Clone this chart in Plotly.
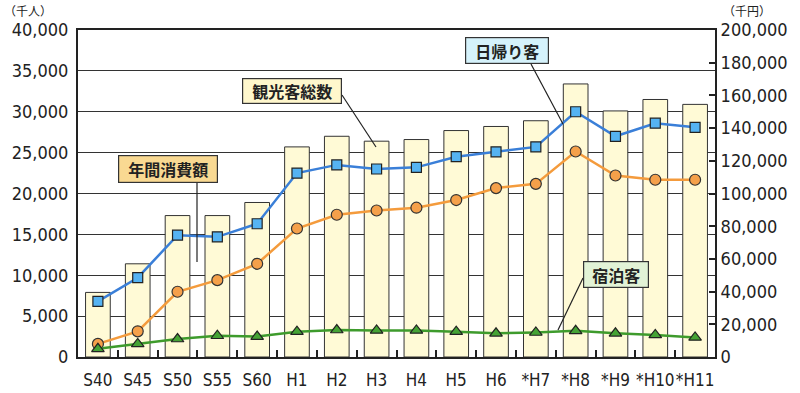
import plotly.graph_objects as go

categories = ["S40", "S45", "S50", "S55", "S60", "H1", "H2", "H3", "H4", "H5", "H6",
              "*H7", "*H8", "*H9", "*H10", "*H11"]
total_visitors = [7900, 11400, 17300, 17300, 18900, 25700, 27000, 26400, 26600, 27700,
                  28200, 28900, 33400, 30100, 31500, 30900]
day_trippers = [6800, 9700, 14900, 14700, 16300, 22500, 23500, 23000, 23200, 24500,
                25100, 25700, 30000, 27000, 28600, 28100]
overnight = [1000, 1600, 2200, 2600, 2500, 3100, 3300, 3250, 3250, 3100, 2900, 3000,
             3200, 2900, 2700, 2400]
annual_spending = [8000, 15700, 39900, 47000, 57000, 78600, 87000, 89600, 91300, 96000,
                   103300, 105900, 125700, 111000, 108400, 108400]

left_ticks = [0, 5000, 10000, 15000, 20000, 25000, 30000, 35000, 40000]
right_ticks = [0, 20000, 40000, 60000, 80000, 100000, 120000, 140000, 160000, 180000, 200000]

FONT = "Noto Sans CJK JP, DejaVu Sans, sans-serif"
NUMFONT = "DejaVu Sans Condensed, DejaVu Sans, sans-serif"
DARK = "#222222"

fig = go.Figure()
fig.add_trace(go.Bar(x=categories, y=total_visitors, name="観光客総数",
                     marker=dict(color="#FFFAD6", line=dict(color="#333333", width=1)),
                     width=0.62))
fig.add_trace(go.Scatter(x=categories, y=day_trippers, name="日帰り客", mode="lines+markers",
                         line=dict(color="#3A7FD8", width=2.5),
                         marker=dict(symbol="square", size=10, color="#55B3F2",
                                     line=dict(color="#222222", width=1.2))))
fig.add_trace(go.Scatter(x=categories, y=annual_spending, name="年間消費額", yaxis="y2",
                         mode="lines+markers",
                         line=dict(color="#F49B3C", width=2.5),
                         marker=dict(symbol="circle", size=11, color="#F5A04A",
                                     line=dict(color="#333333", width=1.2))))
fig.add_trace(go.Scatter(x=categories, y=overnight, name="宿泊客", yaxis="y3",
                         mode="lines+markers",
                         line=dict(color="#3E9B2C", width=2.5),
                         marker=dict(symbol="triangle-up", size=11, color="#45A335",
                                     line=dict(color="#222222", width=1.2))))

W, H = 800, 393
PL, PR, PT, PB = 78, 715, 30, 357          # plot area in window pixels
pw, ph = PR - PL, PB - PT


def px(x):
    return (x - PL) / pw


def py(y):
    return (PB - y) / ph


fig.update_layout(
    width=W, height=H,
    margin=dict(l=PL, r=W - PR, t=PT, b=H - PB, autoexpand=False),
    paper_bgcolor="white", plot_bgcolor="white",
    showlegend=False,
    font=dict(family=FONT, color=DARK, size=16),
    xaxis=dict(type="category", showline=True, linecolor="#222222", linewidth=2,
               mirror=True, ticks="inside", tickson="boundaries", ticklen=7,
               tickcolor="#222222", tickwidth=1.5, showgrid=False, automargin=False,
               tickangle=0, tickfont=dict(size=17, family=NUMFONT), ticklabelstandoff=7,
               range=[-0.5, len(categories) - 0.5]),
    yaxis=dict(range=[0, 40000], tickvals=left_ticks,
               ticktext=[f"{v:,}" for v in left_ticks],
               showgrid=True, gridcolor="#333333", gridwidth=1, automargin=False,
               showline=True, linecolor="#222222", linewidth=2, ticklabelstandoff=4,
               ticks="", tickfont=dict(size=18, family=NUMFONT), zeroline=False),
    yaxis2=dict(range=[0, 200000], overlaying="y", side="right", automargin=False,
                tickvals=right_ticks, ticktext=[f"{v:,}" for v in right_ticks],
                showgrid=False, showline=True, linecolor="#222222", linewidth=2,
                ticks="inside", ticklen=6, tickwidth=1.5, tickcolor="#222222",
                tickfont=dict(size=18, family=NUMFONT), zeroline=False),
    yaxis3=dict(range=[0, 40000], overlaying="y", visible=False),
)

# axis unit titles
fig.add_annotation(text="（千人）", xref="paper", yref="paper", x=px(3), y=py(10),
                   xanchor="left", yanchor="middle", showarrow=False, borderpad=0,
                   font=dict(size=12))
fig.add_annotation(text="（千円）", xref="paper", yref="paper", x=px(722), y=py(10),
                   xanchor="left", yanchor="middle", showarrow=False, borderpad=0,
                   font=dict(size=12))

# callout lines (window pixel positions)
callouts = [
    ((197, 183), (197, 262)),
    ((342, 95), (376, 147)),
    ((531, 64), (563, 124)),
    ((583, 278), (558, 330)),
]
for (x0, y0), (x1, y1) in callouts:
    fig.add_shape(type="line", xref="paper", yref="paper",
                  x0=px(x0), y0=py(y0), x1=px(x1), y1=py(y1),
                  line=dict(color="#222222", width=1.2))

labels = [
    ("年間消費額", (118, 155, 218, 183), "#F9D992"),
    ("観光客総数", (242, 78, 342, 104), "#FFF7CC"),
    ("日帰り客", (465, 37, 549, 64), "#D5F2FB"),
    ("宿泊客", (583, 261, 649, 288), "#E2F3D6"),
]
for text, (x0, y0, x1, y1), col in labels:
    fig.add_annotation(text=f"<b>{text}</b>", xref="paper", yref="paper",
                       x=px((x0 + x1) / 2), y=py((y0 + y1) / 2),
                       xanchor="center", yanchor="middle", showarrow=False,
                       bgcolor=col, bordercolor="#333333", borderwidth=1.2, borderpad=2,
                       width=x1 - x0 - 6, height=y1 - y0 - 6,
                       font=dict(size=16, color=DARK))

fig.write_html("out.html", config={"displayModeBar": False},
               post_script="document.body.style.margin='0px';"
                           "document.body.style.overflow='hidden';")
